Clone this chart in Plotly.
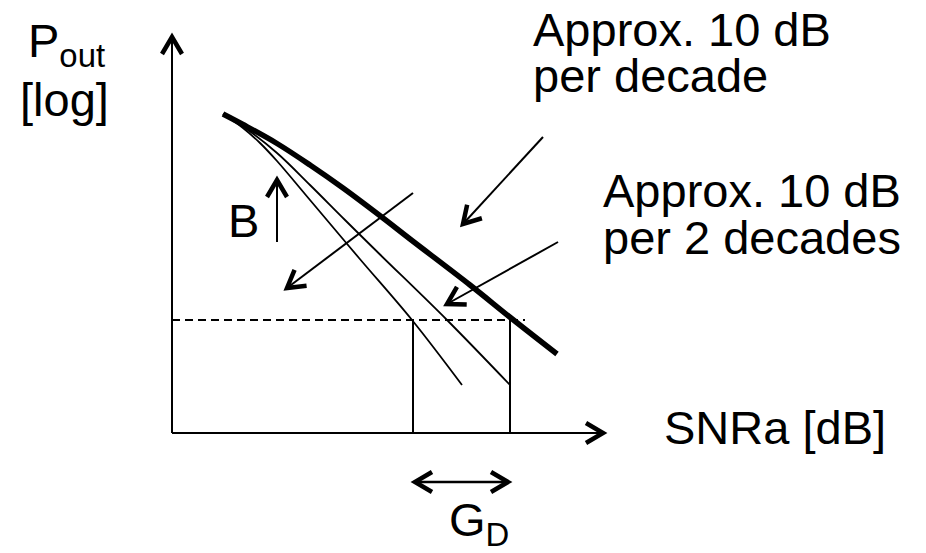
import numpy as np
import plotly.graph_objects as go

# diagram units: x = SNRa, y = Pout (log), origin at the axis corner
thick_x = [51, 71, 105, 138, 171, 211, 238, 298, 339, 385]
thick_y = [319, 308.5, 289.5, 268, 245, 215, 194, 148, 115, 79]

mid_x = [51, 71, 105, 138, 173, 208, 275, 338]
mid_y = [319, 306.5, 280, 248, 213, 178.5, 113, 48]

left_x = [51, 71, 88, 105, 138, 187, 240, 290]
left_y = [319, 305, 290, 272, 233, 175, 113, 48]

dash_x = [0, 353]
dash_y = [113, 113]

gd_lo = 241
gd_hi = 338

# arrows: (tail x, tail y, tip x, tip y)
arrows = {
    "yaxis": (0, 0, 0, 396),
    "xaxis": (0, 0, 431, 0),
    "B": (105, 191, 105, 253),
    "cross": (241, 240, 115, 145),
    "decade": (371, 296, 291, 209),
    "two_decades": (386, 191, 275, 129),
    "gd_right": (243, -49, 336, -49),
    "gd_left": (336, -49, 243, -49),
}
shaft_width = {"yaxis": 2, "xaxis": 2, "B": 2, "cross": 2,
               "decade": 2, "two_decades": 2, "gd_right": 2.5, "gd_left": 2.5}

labels = [
    ("Approx. 10 dB", 359, 404),
    ("per decade", 359, 358),
    ("Approx. 10 dB", 429, 243),
    ("per 2 decades", 429, 196),
    ("SNRa [dB]", 490, 6),
    ("B", 54, 213),
    ("P<sub>out</sub>", -146, 389),
    ("[log]", -154, 334),
    ("G<sub>D</sub>", 275, -90),
]

W, H = 926, 553
X0, Y0 = 172, 433  # pixel position of the axis corner

fig = go.Figure()

def line(x, y, width, dash=None, shape="linear"):
    fig.add_trace(go.Scatter(x=x, y=y, mode="lines",
                             line=dict(color="black", width=width, dash=dash, shape=shape),
                             hoverinfo="skip", showlegend=False))

# curves
line(thick_x, thick_y, 5.5, shape="spline")
line(mid_x, mid_y, 1.8, shape="spline")
line(left_x, left_y, 1.8, shape="spline")

# dashed level and the two verticals
line(dash_x, dash_y, 2, dash="8px,5px")
line([gd_lo, gd_lo], [0, dash_y[0]], 2)
line([gd_hi, gd_hi], [0, dash_y[0]], 2)

# arrows with open chevron heads
for key, (x0, y0, x1, y1) in arrows.items():
    if not key.startswith("gd_left"):
        line([x0, x1], [y0, y1], shaft_width[key])
    d = np.array([x1 - x0, y1 - y0], dtype=float)
    d /= np.hypot(*d)
    n = np.array([-d[1], d[0]])
    L, Wh = 17, 10
    tip = np.array([x1, y1], dtype=float)
    a = tip - L * d + Wh * n
    b = tip - L * d - Wh * n
    line([a[0], tip[0], b[0]], [a[1], tip[1], b[1]], 4.5)

for text, x, y in labels:
    fig.add_annotation(x=x, y=y, text=text, showarrow=False,
                       xanchor="left", yanchor="middle",
                       font=dict(family="Liberation Sans, Arial", size=47, color="black"))

fig.update_xaxes(range=[-X0, W - X0], visible=False, fixedrange=True)
fig.update_yaxes(range=[Y0 - H, Y0], visible=False, fixedrange=True)
fig.update_layout(width=W, height=H, margin=dict(l=0, r=0, t=0, b=0),
                  paper_bgcolor="white", plot_bgcolor="white")

fig.write_html("out.html", config={"displayModeBar": False},
               post_script="document.body.style.margin='0';document.body.style.overflow='hidden';")
